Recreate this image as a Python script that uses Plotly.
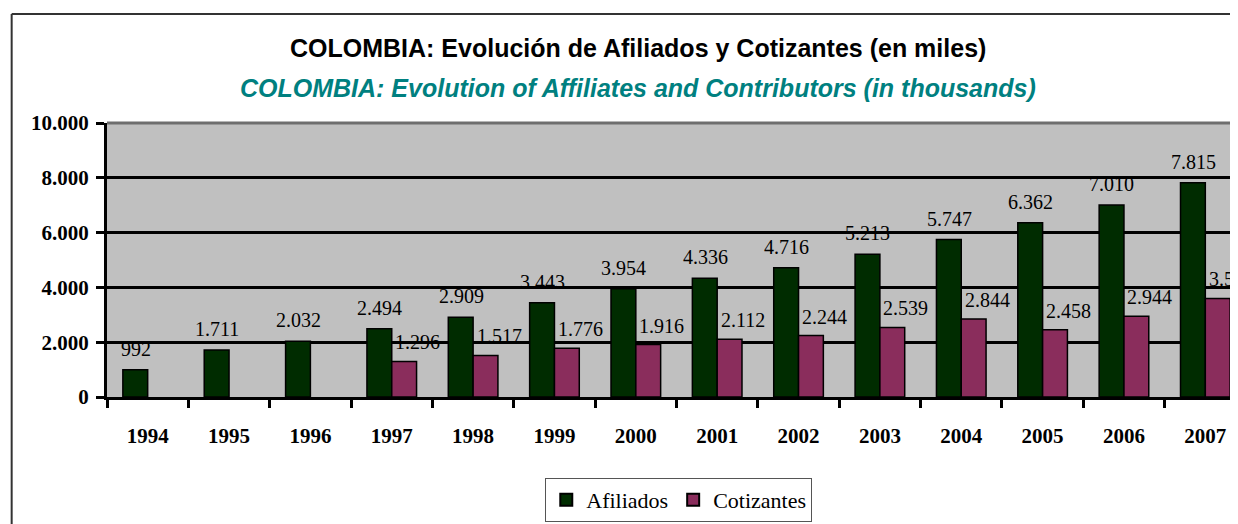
import plotly.graph_objects as go

years = ["1994", "1995", "1996", "1997", "1998", "1999", "2000",
         "2001", "2002", "2003", "2004", "2005", "2006", "2007"]
afiliados = [992, 1711, 2032, 2494, 2909, 3443, 3954, 4336, 4716, 5213, 5747, 6362, 7010, 7815]
cotizantes = [None, None, None, 1296, 1517, 1776, 1916, 2112, 2244, 2539, 2844, 2458, 2944, 3597]
y_ticks = [0, 2000, 4000, 6000, 8000, 10000]

title_es = "COLOMBIA: Evolución de Afiliados y Cotizantes (en miles)"
title_en = "COLOMBIA: Evolution of Affiliates and Contributors (in thousands)"


def fmt(v):
    return f"{v:,}".replace(",", ".")


fig = go.Figure()
fig.add_trace(go.Bar(
    name="Afiliados", x=years, y=afiliados,
    marker=dict(color="#002c00", line=dict(color="black", width=1.5)),
))
fig.add_trace(go.Bar(
    name="Cotizantes", x=years, y=cotizantes,
    marker=dict(color="#8a2d5c", line=dict(color="black", width=1.5)),
))

ann = []
for i, v in enumerate(afiliados):
    ann.append(dict(x=i, y=v, xref="x", yref="y", text=fmt(v), showarrow=False,
                    xshift=-12, yshift=8, yanchor="bottom",
                    font=dict(family="Liberation Serif", size=20, color="black")))
for i, v in enumerate(cotizantes):
    if v is None:
        continue
    ann.append(dict(x=i, y=v, xref="x", yref="y", text=fmt(v), showarrow=False,
                    xshift=26, yshift=6, yanchor="bottom",
                    font=dict(family="Liberation Serif", size=20, color="black")))

ann.append(dict(x=0.4666, y=1.2737, xref="paper", yref="paper", text="<b>" + title_es + "</b>",
                showarrow=False, xanchor="center", yanchor="middle",
                font=dict(family="Liberation Sans", size=25, color="black")))
ann.append(dict(x=0.4666, y=1.1277, xref="paper", yref="paper", text="<b><i>" + title_en + "</i></b>",
                showarrow=False, xanchor="center", yanchor="middle",
                font=dict(family="Liberation Sans", size=25, color="#008080")))

shapes = [
    # outer chart frame (left and top edges; the rest lies outside the picture)
    dict(type="line", xref="paper", yref="paper", x0=-0.0837, y0=-1.0, x1=-0.0837, y1=1.398,
         line=dict(color="#333333", width=2), layer="below"),
    dict(type="line", xref="paper", yref="paper", x0=-0.0837, y0=1.398, x1=1.2, y1=1.398,
         line=dict(color="#333333", width=2), layer="below"),
    # top and right plot borders (grey)
    dict(type="line", xref="paper", yref="paper", x0=0, y0=1, x1=1, y1=1,
         line=dict(color="#6e6e6e", width=3), layer="above"),
    dict(type="line", xref="paper", yref="paper", x0=1, y0=0, x1=1, y1=1,
         line=dict(color="#8c8c8c", width=2), layer="above"),
]

fig.update_layout(
    width=1238, height=524,
    margin=dict(l=99, r=0, t=115, b=135, autoexpand=False),
    paper_bgcolor="white",
    plot_bgcolor="#c0c0c0",
    barmode="group",
    bargap=0.39,
    bargroupgap=0,
    separators=",.",
    annotations=ann,
    shapes=shapes,
    showlegend=True,
    legend=dict(orientation="h", x=0.502, y=-0.376, xanchor="center", yanchor="middle",
                bordercolor="#555555", borderwidth=1, bgcolor="white",
                font=dict(family="Liberation Serif", size=22, color="black"),
                itemsizing="constant", itemwidth=30, traceorder="normal"),
    xaxis=dict(
        type="category", range=[-0.5, 13.5], tickson="boundaries", ticks="outside",
        ticklen=8, tickwidth=3, tickangle=0, automargin=False,
        tickcolor="black", showline=True, linecolor="black", linewidth=3,
        showgrid=False, ticklabelstandoff=18,
        tickfont=dict(family="Liberation Serif", size=21, color="black", weight="bold"),
    ),
    yaxis=dict(
        range=[0, 10000], tickvals=y_ticks, tickformat=",d", automargin=False,
        ticks="outside", ticklen=8, tickwidth=3, tickcolor="black",
        showline=True, linecolor="black", linewidth=3, ticklabelstandoff=3,
        showgrid=True, gridcolor="black", gridwidth=3, zeroline=False,
        tickfont=dict(family="Liberation Serif", size=21, color="black", weight="bold"),
    ),
)

fig.write_html("out.html")
